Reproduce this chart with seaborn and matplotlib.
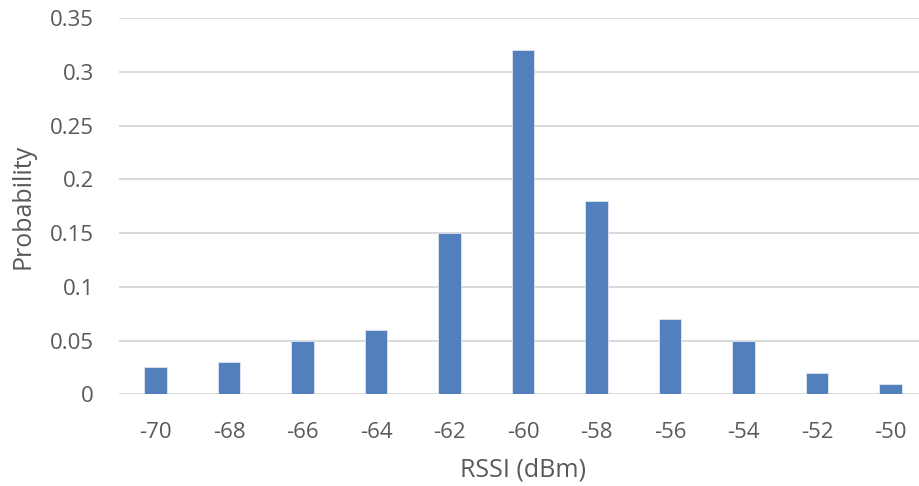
import matplotlib.pyplot as plt
import pandas as pd
import seaborn as sns

rssi = ["-70", "-68", "-66", "-64", "-62", "-60", "-58", "-56", "-54", "-52", "-50"]
probability = [0.025, 0.03, 0.05, 0.06, 0.15, 0.32, 0.18, 0.07, 0.05, 0.02, 0.01]
y_ticks = [0, 0.05, 0.1, 0.15, 0.2, 0.25, 0.3, 0.35]
y_tick_labels = ["0", "0.05", "0.1", "0.15", "0.2", "0.25", "0.3", "0.35"]

df = pd.DataFrame({"rssi": rssi, "probability": probability})

sns.set_theme(style="white")
plt.rcParams["font.family"] = ["Open Sans", "DejaVu Sans"]

text_color = "#595959"
grid_color = "#d9d9d9"

fig = plt.figure(figsize=(9.2, 4.86), dpi=100)
# plot area in pixels: x 118.8 -> 927.3 (runs past the right edge), y 18 -> 394.3
ax = fig.add_axes([118.8 / 920, 1 - 394.3 / 486, (927.3 - 118.8) / 920, (394.3 - 18) / 486])

sns.barplot(df, x="rssi", y="probability", order=rssi, color="#5280bc",
            width=0.31, saturation=1, edgecolor="#dfe6f2", linewidth=0.6, ax=ax, zorder=3)

ax.set_xlim(-0.5, len(rssi) - 0.5)
ax.set_ylim(0, 0.35)
ax.set_yticks(y_ticks)
ax.set_yticklabels(y_tick_labels)
ax.yaxis.grid(True, color=grid_color, linewidth=1.4, zorder=0)
ax.set_axisbelow(True)
for side in ["top", "right", "left", "bottom"]:
    ax.spines[side].set_visible(False)

ax.tick_params(axis="both", length=0, labelsize=16, colors=text_color)
ax.tick_params(axis="y", pad=18)
ax.tick_params(axis="x", pad=20)

ax.set_xlabel("RSSI (dBm)", fontsize=18, color=text_color)
ax.set_ylabel("Probability", fontsize=18, color=text_color)
ax.xaxis.set_label_coords(0.5, -0.167)
ax.yaxis.set_label_coords(-0.103, 0.5)

fig.savefig("out.png", dpi=100)
